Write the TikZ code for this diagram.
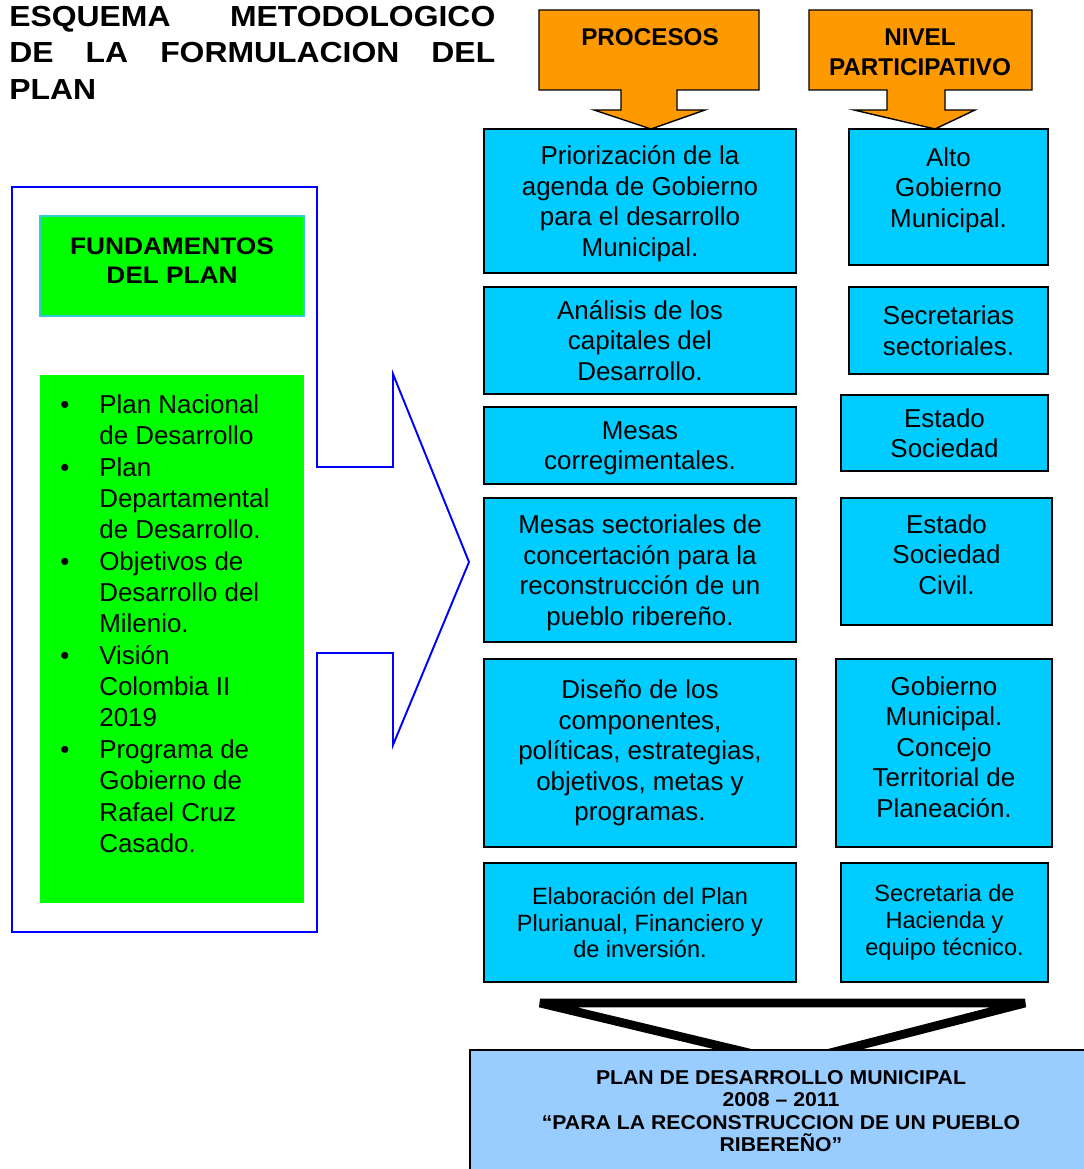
\documentclass[tikz,border=0pt]{standalone}
\usepackage{fontspec}
\setmainfont{Liberation Sans}
\newfontfamily\anchofont[FakeStretch=1.1]{Liberation Sans}
\newfontfamily\planfont[FakeStretch=1.06]{Liberation Sans}
\usetikzlibrary{positioning}

\definecolor{procblue}{HTML}{00CCFF}
\definecolor{headorange}{HTML}{FF9900}
\definecolor{fundgreen}{HTML}{00FF00}
\definecolor{planblue}{HTML}{99CCFF}
\definecolor{edgecyan}{HTML}{33CCCC}

\tikzset{
  cajaproc/.style={draw=black, line width=1.1pt, fill=procblue, align=center, inner sep=0pt,
    font=\fontsize{14.75}{17.4}\selectfont},
  cajachica/.style={cajaproc, font=\fontsize{13.4}{15.3}\selectfont},
  cabecera/.style={align=center, inner sep=0pt, font=\bfseries\fontsize{13.8}{17}\selectfont},
  flechanaranja/.style={draw=black, line width=0.8pt, fill=headorange},
}

\begin{document}
\begin{tikzpicture}[x=0.02cm,y=-0.02cm]
\useasboundingbox (0,0) rectangle (1083,1169);

\node[anchor=north west, text width=9.72cm, align=justify, inner sep=0pt,
  font=\anchofont\bfseries\fontsize{16.5}{20.7}\selectfont] (titulo) at (9,6)
  {ESQUEMA METODOLOGICO\linebreak DE LA FORMULACION DEL\linebreak PLAN};

\draw[flechanaranja] (539,10) -- (759,10) -- (759,90) -- (677,90) -- (677,110) -- (705,110)
  -- (651,129) -- (594,110) -- (621,110) -- (621,90) -- (539,90) -- cycle;
\draw[flechanaranja] (809,10) -- (1032,10) -- (1032,90) -- (945,90) -- (945,110) -- (975,110)
  -- (935,129) -- (854,110) -- (887,110) -- (887,90) -- (809,90) -- cycle;
\node[cabecera] (procesos) at (650,37) {PROCESOS};
\node[cabecera] (nivel) at (920,52) {NIVEL\\PARTICIPATIVO};

\draw[blue, line width=1.1pt] (12,187) -- (317,187) -- (317,467) -- (393,467) -- (393,374)
  -- (469,562) -- (393,745) -- (393,653) -- (317,653) -- (317,932) -- (12,932) -- cycle;
\node[draw=edgecyan, line width=0.8pt, fill=fundgreen, minimum width=5.28cm, minimum height=2cm,
  inner sep=0pt] (fundcabeza) at (172,266) {};
\node[align=center, inner sep=0pt, font=\anchofont\bfseries\fontsize{13.6}{16.6}\selectfont]
  (fundtitulo) at (172,261) {FUNDAMENTOS\\DEL PLAN};
\node[fill=fundgreen, minimum width=5.28cm, minimum height=10.56cm, inner sep=0pt] (fundcaja) at (172,639) {};
\node[anchor=north west, inner sep=0pt, font=\fontsize{14.75}{17.85}\selectfont] (fundlista) at (60,391)
  {\begin{tabular}{@{}p{0.78cm}@{}l@{}}
  \textbullet & Plan Nacional\\
   & de Desarrollo\\
  \textbullet & Plan\\
   & Departamental\\
   & de Desarrollo.\\
  \textbullet & Objetivos de\\
   & Desarrollo del\\
   & Milenio.\\
  \textbullet & Visión\\
   & Colombia II\\
   & 2019\\
  \textbullet & Programa de\\
   & Gobierno de\\
   & Rafael Cruz\\
   & Casado.
  \end{tabular}};

\node[cajaproc, minimum width=6.24cm, minimum height=2.88cm, text depth=-1pt] (p1) at (640,201)
  {Priorización de la\\agenda de Gobierno\\para el desarrollo\\Municipal.};
\node[cajaproc, minimum width=6.24cm, minimum height=2.14cm] (p2) at (640,340.5)
  {Análisis de los\\capitales del\\Desarrollo.};
\node[cajaproc, minimum width=6.24cm, minimum height=1.54cm, text depth=-5pt] (p3) at (640,445.5)
  {Mesas\\corregimentales.};
\node[cajaproc, minimum width=6.24cm, minimum height=2.88cm, text depth=-2pt] (p4) at (640,570)
  {Mesas sectoriales de\\concertación para la\\reconstrucción de un\\pueblo ribereño.};
\node[cajaproc, minimum width=6.24cm, minimum height=3.76cm] (p5) at (640,753)
  {Diseño de los\\componentes,\\políticas, estrategias,\\objetivos, metas y\\programas.};
\node[cajachica, minimum width=6.24cm, minimum height=2.38cm] (p6) at (640,922.5)
  {Elaboración del Plan\\Plurianual, Financiero y\\de inversión.};

\node[cajaproc, minimum width=3.98cm, minimum height=2.72cm, text depth=11pt] (n1) at (948.5,197)
  {Alto\\Gobierno\\Municipal.};
\node[cajaproc, minimum width=3.98cm, minimum height=1.74cm] (n2) at (948.5,330.5)
  {Secretarias\\sectoriales.};
\node[cajaproc, minimum width=4.14cm, minimum height=1.52cm, text depth=-4pt] (n3) at (944.5,433)
  {Estado\\Sociedad};
\node[cajaproc, minimum width=4.22cm, minimum height=2.54cm, text depth=8pt] (n4) at (946.5,561.5)
  {Estado\\Sociedad\\Civil.};
\node[cajaproc, minimum width=4.32cm, minimum height=3.76cm, text depth=7pt] (n5) at (944,753)
  {Gobierno\\Municipal.\\Concejo\\Territorial de\\Planeación.};
\node[cajachica, minimum width=4.14cm, minimum height=2.38cm] (n6) at (944.5,922.5)
  {Secretaria de\\Hacienda y\\equipo técnico.};

\coordinate (embudoizq) at (540,1003);
\coordinate (embudoder) at (1025,1003);
\coordinate (embudopunta) at (791,1063);
\draw[line width=5pt, line join=bevel] (embudoizq) -- (embudoder) -- (embudopunta) -- cycle;

\node[draw=black, line width=1.1pt, fill=planblue, minimum width=12.44cm, minimum height=2.44cm,
  align=center, inner sep=0pt, font=\planfont\bfseries\fontsize{11.4}{12.8}\selectfont] (plan) at (781,1111)
  {PLAN DE DESARROLLO MUNICIPAL\\2008 – 2011\\“PARA LA RECONSTRUCCION DE UN PUEBLO\\RIBEREÑO”};
\end{tikzpicture}
\end{document}
